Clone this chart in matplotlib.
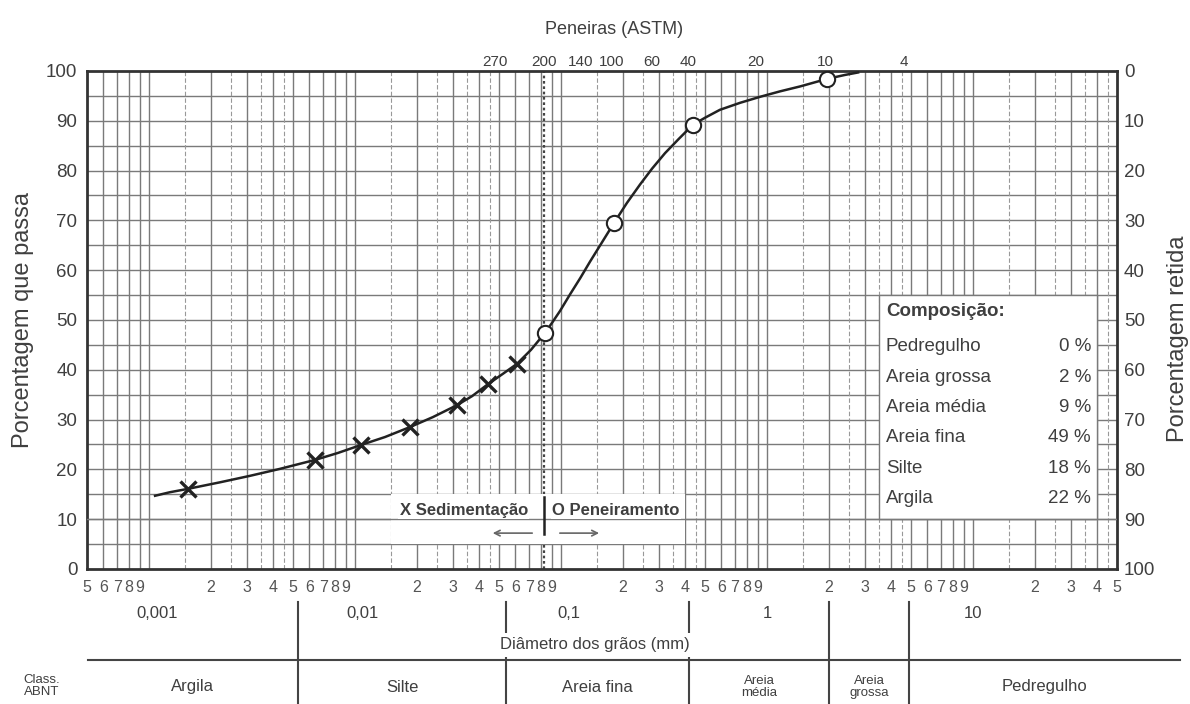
import numpy as np
import matplotlib
matplotlib.use("Agg")
import matplotlib.pyplot as plt
from matplotlib import transforms
from matplotlib.patches import Rectangle
from matplotlib.ticker import NullLocator

plt.rcParams['font.family'] = ['Liberation Sans', 'DejaVu Sans']

# grading curve (diameter in mm, % passing)
curve_d = [0.00107, 0.00126, 0.00155, 0.00221, 0.00309, 0.00432, 0.0064, 0.00827,
           0.0107, 0.0140, 0.0185, 0.0239, 0.0313, 0.0370, 0.0442, 0.0523, 0.0612,
           0.0715, 0.0836, 0.0904, 0.0989, 0.1105, 0.124, 0.1383, 0.155, 0.181,
           0.209, 0.242, 0.277, 0.320, 0.374, 0.437, 0.50, 0.591, 0.740, 0.924,
           1.156, 1.45, 1.955, 2.39, 2.77]
curve_p = [14.7, 15.4, 16.1, 17.4, 18.7, 20.1, 21.9, 23.3,
           24.9, 26.5, 28.5, 30.5, 32.9, 34.7, 37.1, 39.2, 41.2,
           44.0, 47.4, 49.4, 51.8, 55.1, 58.4, 61.7, 65.0, 69.5,
           73.5, 77.2, 80.4, 83.5, 86.4, 89.2, 90.6, 92.2, 93.6, 94.8,
           95.9, 96.9, 98.4, 99.2, 99.7]

# sedimentation points (X) and sieving points (O)
sed_d = [0.00155, 0.0064, 0.0107, 0.0185, 0.0313, 0.0442, 0.0612]
sed_p = [16.1, 21.9, 24.9, 28.5, 32.9, 37.1, 41.2]
pen_d = [0.0836, 0.181, 0.437, 1.955]
pen_p = [47.4, 69.5, 89.2, 98.4]

# ASTM sieves on the top axis
sieve_no = ["270", "200", "140", "100", "60", "40", "20", "10", "4"]
sieve_mm = [0.048, 0.083, 0.125, 0.177, 0.277, 0.414, 0.885, 1.93, 4.62]

# ABNT classes under the axis
abnt_bounds = [0.0053, 0.054, 0.42, 2.0, 4.9]
abnt_names = ["Argila", "Silte", "Areia fina", "Areia\nmédia", "Areia\ngrossa", "Pedregulho"]

comp_names = ["Pedregulho", "Areia grossa", "Areia média", "Areia fina", "Silte", "Argila"]
comp_pct = [0, 2, 9, 49, 18, 22]

decades = [0.001, 0.01, 0.1, 1, 10]
decade_labels = ["0,001", "0,01", "0,1", "1", "10"]

XMIN, XMAX = 0.0005, 50
GRID = '#7a7a7a'
INK = '#222222'
TXT = '#3f3f3f'

fig = plt.figure(figsize=(11.9, 7.04), dpi=100)
ax = fig.add_axes([0.0731, 0.1918, 0.8655, 0.7074])
ax.set_xscale('log')
ax.set_xlim(XMIN, XMAX)
ax.set_ylim(0, 100)

# grid: every 5 % and the usual log subdivisions (plus half steps)
for y in range(5, 100, 5):
    ax.axhline(y, color=GRID, lw=1.0, zorder=1)
for k in range(-4, 2):
    for m in [1, 1.5, 2, 2.5, 3, 3.5, 4, 4.5, 5, 6, 7, 8, 9]:
        v = m * 10.0 ** k
        if XMIN < v < XMAX:
            if m % 1:
                ax.axvline(v, color='#999999', lw=0.8, ls=(0, (4, 2)), zorder=1)
            else:
                ax.axvline(v, color=GRID, lw=1.0, zorder=1)

# sieve #200 separation
ax.axvline(0.083, color='#444444', lw=1.6, ls=(0, (1.2, 1.2)), zorder=2)

# ticks bottom
minor, minor_lab = [], []
for k in range(-4, 2):
    for m in range(2, 10):
        v = m * 10.0 ** k
        if XMIN * 0.9999 <= v <= XMAX * 1.0001:
            minor.append(v)
            minor_lab.append(str(m))
ax.set_xticks(decades, labels=decade_labels)
ax.set_xticks(minor, labels=minor_lab, minor=True)
ax.tick_params(axis='x', which='major', length=0, pad=27, labelsize=12, labelcolor=TXT)
ax.tick_params(axis='x', which='minor', length=0, pad=8, labelsize=11.5, labelcolor='#555555')
# decade labels sit a little right of the decade lines in the original
shift = transforms.ScaledTranslation(0.08, 0, fig.dpi_scale_trans)
for lab in ax.get_xticklabels()[:3]:
    lab.set_transform(lab.get_transform() + shift)
ax.set_yticks(range(0, 101, 10))
ax.tick_params(axis='y', length=0, pad=7, labelsize=13.5, labelcolor=TXT)

for s in ax.spines.values():
    s.set_linewidth(2)
    s.set_color('#333333')

# top: sieve numbers
top = ax.secondary_xaxis('top')
top.set_xticks(sieve_mm, labels=sieve_no)
top.xaxis.set_minor_locator(NullLocator())
top.tick_params(axis='x', which='both', length=0, pad=1.5, labelcolor=TXT)
for lab in top.get_xticklabels():
    lab.set_fontfamily(['Liberation Sans Narrow', 'Liberation Sans', 'DejaVu Sans'])
    lab.set_fontsize(11)
top.spines['top'].set_visible(False)

# right: % retained
right = ax.secondary_yaxis('right', functions=(lambda y: 100 - y, lambda y: 100 - y))
right.set_yticks(range(0, 101, 10))
right.tick_params(axis='y', length=0, pad=5, labelsize=13.5, labelcolor=TXT)
right.spines['right'].set_visible(False)

fig.text(23 / 1190, 1 - 320 / 704, "Porcentagem que passa", rotation=90,
         ha='center', va='center', fontsize=17, color=TXT)
fig.text(1178 / 1190, 1 - 339 / 704, "Porcentagem retida", rotation=90,
         ha='center', va='center', fontsize=17, color=TXT)
fig.text(614 / 1190, 1 - 29 / 704, "Peneiras (ASTM)", ha='center', va='center',
         fontsize=13, color=TXT)

# legend box Sedimentação / Peneiramento
ax.add_patch(Rectangle((0.015, 5), 0.4 - 0.015, 10, facecolor='white',
                       edgecolor='none', zorder=3))
ax.axhline(10, color=GRID, lw=1.0, zorder=3.1)
ax.text(0.0165, 11.8, "X Sedimentação", fontsize=12, fontweight='bold',
        color=TXT, va='center', ha='left', zorder=4,
        bbox=dict(facecolor='white', edgecolor='none', pad=1))
ax.text(0.0904, 11.8, "O Peneiramento", fontsize=12, fontweight='bold',
        color=TXT, va='center', ha='left', zorder=4,
        bbox=dict(facecolor='white', edgecolor='none', pad=1))
ax.plot([0.083, 0.083], [7, 14.5], color=INK, lw=1.8, zorder=4)
ax.annotate('', xy=(0.0452, 7.2), xytext=(0.0748, 7.2), zorder=4,
            arrowprops=dict(arrowstyle='->', color='#666666', lw=1.2))
ax.annotate('', xy=(0.158, 7.2), xytext=(0.0957, 7.2), zorder=4,
            arrowprops=dict(arrowstyle='->', color='#666666', lw=1.2))

# composition box
ax.add_patch(Rectangle((3.5, 10), 40 - 3.5, 45, facecolor='white',
                       edgecolor=GRID, lw=1.0, zorder=3))
ax.text(3.78, 51.6, "Composição:", fontsize=13.5, fontweight='bold', color=TXT,
        va='center', ha='left', zorder=4)
for i, (name, pct) in enumerate(zip(comp_names, comp_pct)):
    yy = 44.6 - 6.1 * i
    ax.text(3.78, yy, name, fontsize=13.5, color=TXT, va='center', ha='left', zorder=4)
    ax.text(37.4, yy, f"{pct} %", fontsize=13.5, color=TXT, va='center', ha='right', zorder=4)

# curve and points
ax.plot(curve_d, curve_p, color=INK, lw=1.8, zorder=5, solid_joinstyle='round')
ax.plot(sed_d, sed_p, ls='none', marker='x', ms=11, mew=2.4, color=INK, zorder=6)
ax.plot(pen_d, pen_p, ls='none', marker='o', ms=11, mew=1.5, mfc='white', mec=INK, zorder=6)

# ABNT classification strip below the axis
trans = transforms.blended_transform_factory(ax.transData, fig.transFigure)
for b in abnt_bounds:
    ax.plot([b, b], [1 - 602 / 704, 0], transform=trans, color='#444444',
            lw=1.5, clip_on=False)
ax.plot([88 / 1190, 1180 / 1190], [1 - 660 / 704, 1 - 660 / 704],
        transform=fig.transFigure, color='#444444', lw=1.5, clip_on=False)
edges = [XMIN] + abnt_bounds + [100]
for name, lo, hi in zip(abnt_names, edges[:-1], edges[1:]):
    two = "\n" in name
    ax.text(np.sqrt(lo * hi), 1 - 687 / 704, name, transform=trans,
            ha='center', va='center', fontsize=9.5 if two else 12,
            linespacing=1.05, color=TXT, clip_on=False)
fig.text(42 / 1190, 1 - 686 / 704, "Class.\nABNT", ha='center', va='center',
         fontsize=9.5, linespacing=1.05, color=TXT)
fig.text(595 / 1190, 1 - 645 / 704, "Diâmetro dos grãos (mm)", ha='center',
         va='center', fontsize=12, color=TXT,
         bbox=dict(facecolor='white', edgecolor='none', pad=3))

fig.savefig("out.png", dpi=100)
